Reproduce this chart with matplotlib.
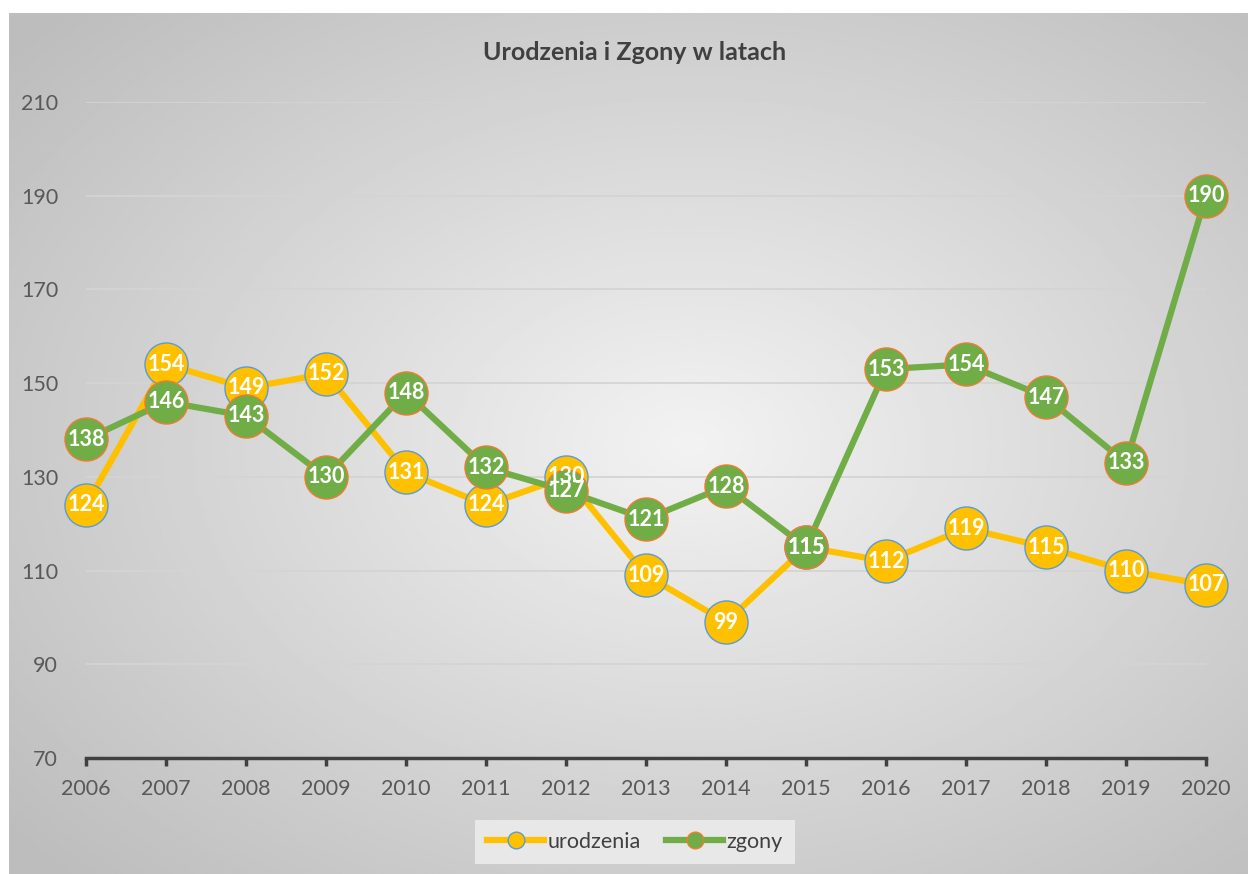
import numpy as np
import matplotlib
matplotlib.use('Agg')
import matplotlib.pyplot as plt
from matplotlib.lines import Line2D

years = [2006, 2007, 2008, 2009, 2010, 2011, 2012, 2013, 2014, 2015, 2016, 2017, 2018, 2019, 2020]
urodzenia = [124, 154, 149, 152, 131, 124, 130, 109, 99, 115, 112, 119, 115, 110, 107]
zgony = [138, 146, 143, 130, 148, 132, 127, 121, 128, 115, 153, 154, 147, 133, 190]
y_ticks = [70, 90, 110, 130, 150, 170, 190, 210]

plt.rcParams['font.family'] = ['Lato', 'DejaVu Sans']

fig = plt.figure(figsize=(12.48, 8.74), dpi=100)

# radial gradient background (chart area, white strip on top/left)
bg = fig.add_axes([9 / 1248, 0, 1 - 9 / 1248, 1 - 13 / 874])
bg.set_axis_off()
gx, gy = np.meshgrid(np.linspace(-1, 1, 400), np.linspace(-1, 1, 300))
r = np.sqrt(((gx - 0.1) / 1.1) ** 2 + ((gy + 0.0) / 1.1) ** 2)
val = 0.95 - 0.21 * np.clip(r, 0, 1.3) / 1.3
bg.imshow(val, cmap='gray', vmin=0, vmax=1, aspect='auto', extent=[0, 1, 0, 1])
bg.set_xlim(0, 1)
bg.set_ylim(0, 1)

ax = fig.add_axes([86 / 1248, 1 - 758 / 874, (1206 - 86) / 1248, (758 - 102) / 874])
ax.patch.set_alpha(0)

ax.set_xlim(2006, 2020)
ax.set_ylim(70, 210)
ax.set_yticks(y_ticks)
ax.set_xticks(years)
ax.grid(axis='y', color='#d4d4d4', linewidth=1.3)
ax.set_axisbelow(True)
for s in ['top', 'right', 'left']:
    ax.spines[s].set_visible(False)
ax.spines['bottom'].set_color('#404040')
ax.spines['bottom'].set_linewidth(2.5)
ax.tick_params(axis='y', length=0, pad=20, labelsize=15.5, labelcolor='#595959')
ax.tick_params(axis='x', length=6, width=2.5, color='#404040', pad=9,
               labelsize=15.5, labelcolor='#595959')

ax.plot(years, urodzenia, color='#FFC000', linewidth=4.5, marker='o', markersize=31,
        markerfacecolor='#FFC000', markeredgecolor='#5B9BD5', markeredgewidth=1,
        clip_on=False, zorder=3)
ax.plot(years, zgony, color='#70AD47', linewidth=4.5, marker='o', markersize=31,
        markerfacecolor='#70AD47', markeredgecolor='#ED7D31', markeredgewidth=1,
        clip_on=False, zorder=4)

for x, v in zip(years, urodzenia):
    ax.text(x, v, str(v), ha='center', va='center', color='white', fontsize=15.5,
            fontweight='bold', zorder=5, clip_on=False)
for x, v in zip(years, zgony):
    ax.text(x, v, str(v), ha='center', va='center', color='white', fontsize=15.5,
            fontweight='bold', zorder=5, clip_on=False)

fig.text(635 / 1248, 1 - 53 / 874, 'Urodzenia i Zgony w latach', ha='center', va='center',
         fontsize=18, fontweight='bold', color='#404040')

handles = [
    Line2D([0], [0], color='#FFC000', linewidth=4.5, marker='o', markersize=12,
           markerfacecolor='#FFC000', markeredgecolor='#5B9BD5'),
    Line2D([0], [0], color='#70AD47', linewidth=4.5, marker='o', markersize=12,
           markerfacecolor='#70AD47', markeredgecolor='#ED7D31'),
]
leg = fig.legend(handles, ['urodzenia', 'zgony'], loc='center', bbox_to_anchor=(635 / 1248, 1 - 842 / 874),
                 ncol=2, frameon=True, fancybox=False, fontsize=15.5, handlelength=2.65,
                 handletextpad=0.15, columnspacing=1.2, borderpad=0.55, borderaxespad=0)
leg.get_frame().set_facecolor('#e8e8e8')
leg.get_frame().set_edgecolor('none')
leg.get_frame().set_alpha(1)
for t in leg.get_texts():
    t.set_color('#404040')

fig.savefig('out.png', dpi=100, facecolor='white')
